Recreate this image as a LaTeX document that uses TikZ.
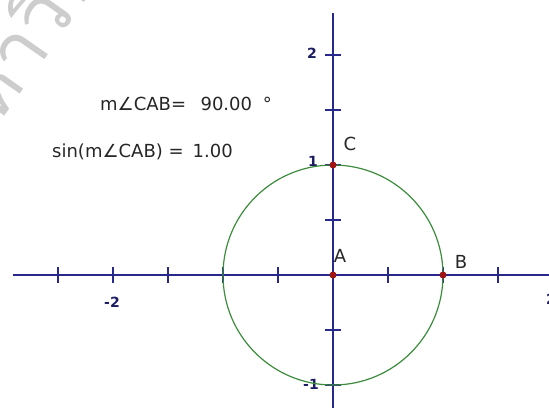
\documentclass[tikz,border=0pt]{standalone}
\usepackage{fontspec}
\setmainfont{DejaVu Sans}
\newfontfamily\thaifont[Script=Thai]{Loma}
\definecolor{axiscol}{RGB}{40,40,140}
\definecolor{circcol}{RGB}{60,140,60}
\definecolor{ptcol}{RGB}{160,20,20}
\definecolor{wmcol}{RGB}{205,205,205}
\begin{document}
\begin{tikzpicture}[x=1pt,y=-1pt,
  axisline/.style={draw=axiscol,line width=1.4pt},
  tickmark/.style={draw=axiscol,line width=1.2pt},
  pt/.style={circle,fill=ptcol,inner sep=0pt,minimum size=7pt},
  lbl/.style={font=\fontsize{18}{20}\selectfont,text=black!85,inner sep=0pt},
  ticklbl/.style={font=\bfseries\fontsize{14}{16}\selectfont,text=axiscol!70!black,inner sep=0pt}]
\useasboundingbox (0,0) rectangle (549,408);
\begin{scope}
\clip (0,0) rectangle (549,408);
\node[font=\thaifont\fontsize{78}{90}\selectfont,text=wmcol,rotate=55,anchor=base west,inner sep=0pt] (wm) at (-32,169) {มหาวิทยาลัย};
\end{scope}
% axes
\coordinate (xl) at (13,275);
\coordinate (xr) at (549,275);
\coordinate (yt) at (333,13);
\coordinate (yb) at (333,408);
\draw[axisline] (xl) -- (xr);
\draw[axisline] (yt) -- (yb);
\foreach \i in {-5,-4,-3,-2,-1,1,2,3} {
  \draw[tickmark] (333+55*\i,267) -- (333+55*\i,283);
}
\foreach \i in {-2,-1,1,2,3,4} {
  \draw[tickmark] (325,275-55*\i) -- (341,275-55*\i);
}
\node[ticklbl] (lm2) at (112,302) {-2};
\node[ticklbl] (lp2) at (551,299) {2};
\node[ticklbl] (l1) at (313,161) {1};
\node[ticklbl] (l2) at (312,53) {2};
\node[ticklbl] (lm1) at (311,384) {-1};
% circle
\draw[circcol,line width=1.2pt] (333,275) circle[radius=110];
% points
\node[pt] (A) at (333,275) {};
\node[pt] (B) at (443,275) {};
\node[pt] (C) at (333,165) {};
\node[lbl] (la) at (340,256) {A};
\node[lbl] (lb) at (461,262) {B};
\node[lbl] (lc) at (350,144) {C};
% measurements
\node[lbl,anchor=west] (m1) at (100,104) {m∠CAB=\hspace{0.8em}90.00\hspace{0.6em}°};
\node[lbl,anchor=west] (m2) at (52,152) {sin(m∠CAB) =\hspace{0.5em}1.00};
\end{tikzpicture}
\end{document}
